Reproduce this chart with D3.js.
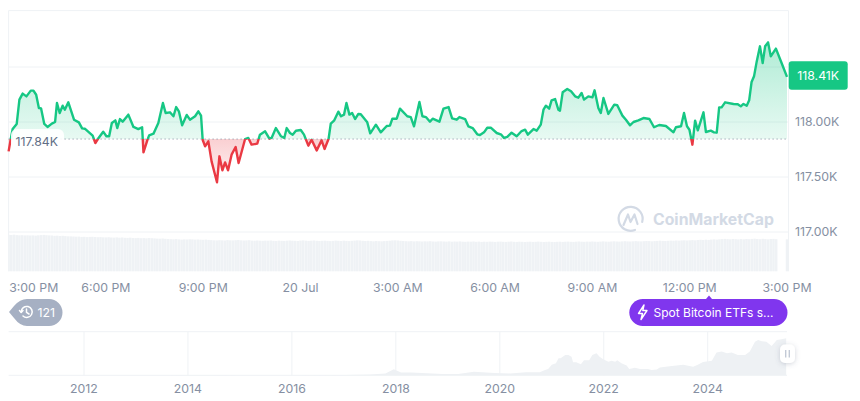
<!DOCTYPE html>
<html>
<head>
<meta charset="utf-8">
<script src="https://cdnjs.cloudflare.com/ajax/libs/d3/7.8.5/d3.min.js"></script>
<style>
html,body{margin:0;padding:0;background:#fff;overflow:hidden}
text{font-family:Inter,"Noto Sans",sans-serif}
</style>
</head>
<body>
<svg id="chart" width="860" height="401"></svg>
<script>
const priceMinutes = [0,4,7.5,15,20,26,33,41,46,51,56,60,66,72,80,86,89.5,94.5,100,104,110.5,121,130,136,141,155.5,160.5,166.5,175,181,186,191,197.5,201,206,211,221.5,231,240,247,249.5,257,260,268,277,285.5,290.5,298.5,305,310,315,321,329.5,335.5,345,351,356,359,363.5,369.5,375.5,385.5,390,395.5,400.5,406,412.5,420,425.5,437.5,443.5,449.5,460,465,474.5,482.5,486.5,494.5,504,510,514.5,520.5,525.5,531.5,540.5,546.5,554.5,560.5,570,579,584.5,592,596,602.5,610,615,620.5,625,630.5,635.5,641,647,651.5,663.5,669,679.5,688.5,699.5,705.5,710,718,724,737.5,744,750,760,765.5,772,779.5,784.5,797,804.5,814,820.5,829,834,844.5,850.5,858.5,867,872,879.5,885.5,892,903,911.5,916.5,922.5,930.5,940,949,955.5,960.5,971,977,984.5,989.5,994,1000,1004.5,1011,1017,1020,1025,1033.5,1040.5,1048,1054,1060,1064.5,1072.5,1080,1084,1091,1095.5,1100.5,1109.5,1120.5,1126,1135.5,1142,1149.5,1156,1165,1174.5,1185.5,1194,1203.5,1216,1230,1234.5,1244,1249.5,1255,1259.5,1265,1270,1275,1285.5,1290,1299,1305,1310,1314.5,1319,1325.5,1341,1349,1354.5,1359.5,1365.5,1370,1374.5,1379,1384,1390,1395,1399.5,1405,1410,1419.5,1430,1440];
const priceValues = [117733,117845,117936,117982,118203,118258,118233,118285,118285,118248,118127,118124,117982,117955,117985,118000,118173,118082,118148,118112,118179,118021,117997,117942,117939,117876,117809,117855,117912,117870,117870,117991,118015,117945,118027,118003,118067,117955,117936,117952,117724,117839,117879,117894,117991,118173,118082,118088,118052,118136,118097,117970,118064,118021,118052,118097,118058,117839,117779,117824,117642,117452,117688,117561,117633,117561,117703,117773,117627,117845,117855,117794,117803,117885,117915,117848,117855,117945,117870,117855,117945,117900,117885,117921,117927,117885,117785,117839,117742,117833,117755,117848,117985,118015,118094,118052,118067,118173,118067,118082,118027,118073,118070,117997,117897,117976,117906,117964,117967,118030,118030,118121,118052,118045,117961,118182,118052,118045,118003,118030,118003,118121,118136,118033,118021,118045,118027,117961,117945,117888,117882,117906,117948,117948,117900,117885,117855,117864,117903,117870,117918,117930,117885,117936,117921,117976,118112,118148,118121,118197,118209,118112,118103,118270,118300,118279,118233,118221,118264,118203,118233,118224,118288,118127,118082,118218,118073,118158,118152,118058,118021,117970,118000,118015,118036,118027,117952,117973,117964,117906,117952,117961,118082,117961,117930,117794,118012,117924,118088,117909,117921,117906,117903,118133,118133,118179,118164,118161,118142,118164,118148,118197,118364,118415,118551,118688,118536,118688,118724,118597,118667,118536,118410];
const baselinePrice = 117845;
const lastPrice = 118410;
const priceTicks = [117000,117500,118000,118500];
const priceTickLabels = ["117.00K","117.50K","118.00K",""];
const timeTicks = [0,180,360,540,720,900,1080,1260,1440];
const timeTickLabels = ["3:00 PM","6:00 PM","9:00 PM","20 Jul","3:00 AM","6:00 AM","9:00 AM","12:00 PM","3:00 PM"];
const volumes = [
36.5,36.3,36.6,36.2,36.0,36.1,35.9,36.0,35.8,35.9,35.7,36.0,36.2,36.4,36.1,35.9,35.8,35.5,35.6,35.3,35.5,35.2,35.0,34.9,
34.8,34.6,34.7,34.4,34.5,34.2,34.4,34.5,34.3,34.1,34.2,34.0,33.9,34.1,33.8,33.7,33.9,33.6,33.8,33.5,33.4,33.6,33.3,33.2,
33.4,33.1,33.2,33.0,33.3,33.1,32.9,32.7,32.6,32.8,32.5,32.3,32.1,32.0,32.2,31.9,31.7,31.9,31.8,32.0,31.9,31.7,31.8,31.6,
31.5,31.7,31.4,31.2,31.0,30.9,31.1,31.0,30.8,31.2,31.0,30.9,31.1,31.3,31.0,30.8,30.9,31.1,30.7,30.6,30.8,30.6,30.5,30.7,
30.6,30.8,30.5,30.4,30.7,30.5,30.4,30.6,30.8,30.6,30.5,30.3,30.7,30.9,30.6,30.4,30.6,30.8,30.5,30.3,30.5,30.6,30.4,30.2,
30.4,30.7,30.5,30.3,30.6,30.4,30.2,30.5,30.7,30.9,30.8,30.5,30.3,30.5,30.2,30.0,30.3,30.1,30.0,30.2,30.4,30.6,30.9,31.0,
30.8,30.5,30.3,30.1,30.0,30.2,29.9,30.1,30.0,29.8,30.0,29.9,30.1,29.8,29.7,29.9,30.0,29.8,29.7,29.9,29.6,29.8,29.7,29.9,
29.6,29.5,29.7,29.6,29.8,29.5,29.7,29.4,29.6,29.5,29.7,29.6,29.4,29.6,29.7,29.5,29.4,29.6,29.8,29.5,29.4,29.6,29.5,29.3,
29.5,29.6,29.4,29.5,29.7,29.5,29.3,29.5,29.6,29.4,29.3,29.5,29.6,29.4,29.6,29.7,29.5,29.4,29.6,29.8,29.6,29.5,29.7,29.6,
29.8,29.6,29.5,29.7,29.9,29.7,29.6,29.8,30.0,29.8,29.7,29.9,30.1,29.9,29.8,30.0,30.2,30.0,29.9,30.1,30.3,30.2,30.0,30.2,
30.4,30.6,30.4,30.3,30.5,30.7,30.6,30.8,30.7,30.9,31.0,30.8,31.0,31.2,31.0,31.3,31.5,31.3,31.6,31.4,31.7,31.9,31.7,32.0,
32.2,32.4,32.2,32.0,32.3,32.1,31.9,32.2,32.0,32.3,32.1,32.4,32.6,32.3,32.1,32.5,32.2,32.0,32.3,32.4,32.1,null,null,null,
32.0];
const navYears = [2010.56,2013.0,2013.6,2013.92,2014.5,2015.0,2016.0,2017.0,2017.5,2017.8,2017.96,2018.1,2018.3,2018.5,2018.9,2019.2,2019.5,2019.9,2020.2,2020.5,2020.77,2020.87,2020.93,2021.0,2021.08,2021.13,2021.17,2021.26,2021.32,2021.38,2021.41,2021.47,2021.56,2021.62,2021.72,2021.78,2021.86,2021.92,2021.99,2022.09,2022.15,2022.22,2022.26,2022.34,2022.44,2022.49,2022.6,2022.7,2022.85,2022.92,2023.02,2023.08,2023.27,2023.53,2023.72,2023.81,2023.91,2024.08,2024.17,2024.27,2024.37,2024.46,2024.58,2024.72,2024.81,2024.91,2024.97,2025.04,2025.13,2025.23,2025.33,2025.42,2025.51];
const navPrices = [0,0.02,0.1,1,0.6,0.3,0.4,1,2.5,6,19,9,9,7,4,4,11,7.5,6,9.5,9.5,17,20,33,38,54,54,64,64,59,41,41,35,48,48,64,70,59,51,43,46,43,48,38,31,20,24,20,20,17,18,25,29,33,27,33,42,46,72,75,70,72,64,64,75,106,112,108,106,93,112,114,117];
const navTicks = [2012,2014,2016,2018,2020,2022,2024];

const W = {l:8.6, r:787, top:10.6, vol:271.3};
const svg = d3.select("#chart");
const defs = svg.append("defs");

const x = d3.scaleLinear().domain([0,1440]).range([W.l,W.r]);
const y = d3.scaleLinear().domain([117000,119000]).range([232,12]);
const vy = d3.scaleLinear().domain([0,40]).range([W.vol,W.vol-40]);
const nx = d3.scaleLinear().domain([2012,2024]).range([84,707.7]);
const ny = d3.scaleLinear().domain([0,118]).range([375.3,338]);

const greenG = defs.append("linearGradient").attr("id","gGreen").attr("gradientUnits","userSpaceOnUse")
  .attr("x1",0).attr("x2",0).attr("y1",y(118724)).attr("y2",y(baselinePrice));
greenG.append("stop").attr("offset",0).attr("stop-color","#16c784").attr("stop-opacity",0.34);
greenG.append("stop").attr("offset",1).attr("stop-color","#16c784").attr("stop-opacity",0.1);
const redG = defs.append("linearGradient").attr("id","gRed").attr("gradientUnits","userSpaceOnUse")
  .attr("x1",0).attr("x2",0).attr("y1",y(baselinePrice)).attr("y2",y(117452));
redG.append("stop").attr("offset",0).attr("stop-color","#ea3943").attr("stop-opacity",0.24);
redG.append("stop").attr("offset",1).attr("stop-color","#ea3943").attr("stop-opacity",0.06);

defs.append("clipPath").attr("id","above").append("rect")
  .attr("x",W.l-2).attr("y",0).attr("width",W.r-W.l+4).attr("height",y(baselinePrice));
defs.append("clipPath").attr("id","below").append("rect")
  .attr("x",W.l-2).attr("y",y(baselinePrice)).attr("width",W.r-W.l+4).attr("height",200);
defs.append("clipPath").attr("id","plot").append("rect")
  .attr("x",W.l).attr("y",0).attr("width",W.r-W.l+1).attr("height",300);
const sh = defs.append("filter").attr("id","shadow").attr("x","-60%").attr("y","-60%").attr("width","220%").attr("height","220%");
sh.append("feDropShadow").attr("dx",0).attr("dy",1).attr("stdDeviation",2.5).attr("flood-color","#58667e").attr("flood-opacity",0.28);

// grid
const gridColor = "#eff2f5";
svg.append("g").selectAll("line").data(priceTicks.map(d=>y(d)).concat([W.top])).join("line")
  .attr("x1",W.l).attr("x2",W.r+1.5).attr("y1",d=>d).attr("y2",d=>d)
  .attr("stroke",gridColor).attr("stroke-width",1);
svg.append("g").selectAll("line").data([W.l,W.r+1.5]).join("line")
  .attr("x1",d=>d).attr("x2",d=>d).attr("y1",W.top).attr("y2",W.vol)
  .attr("stroke",gridColor).attr("stroke-width",1);

// volume
svg.append("g").attr("clip-path","url(#plot)").selectAll("rect")
  .data(volumes.map((v,i)=>({v,i})).filter(d=>d.v!=null)).join("rect")
  .attr("x",d=>x(d.i*5)-(x(5)-x(0))/2+0.1)
  .attr("width",x(5)-x(0)-0.2)
  .attr("y",d=>vy(d.v))
  .attr("height",d=>vy(0)-vy(d.v))
  .attr("fill","#eff2f5");

// watermark
const wmColor = "#d3dae5";
const wm = svg.append("g");
wm.append("path").attr("d","M642.2 222 A12 12 0 1 0 635 230").attr("fill","none").attr("stroke",wmColor).attr("stroke-width",2.2).attr("stroke-linecap","round");
wm.append("path").attr("d","M623.5 225 L628 214.5 L630.5 222 L634.5 214.5 L637.5 224").attr("fill","none").attr("stroke",wmColor).attr("stroke-width",2.2).attr("stroke-linejoin","round").attr("stroke-linecap","round");
wm.append("text").attr("x",653).attr("y",219).attr("dy","0.35em").attr("font-size",15.8).attr("font-weight",700).attr("fill",wmColor).text("CoinMarketCap");

// price
const pts = priceMinutes.map((m,i)=>({m,v:priceValues[i]}));
const area = d3.area().x(d=>x(d.m)).y0(y(baselinePrice)).y1(d=>y(d.v));
const line = d3.line().x(d=>x(d.m)).y(d=>y(d.v));
const gA = svg.append("g").attr("clip-path","url(#above)");
const gB = svg.append("g").attr("clip-path","url(#below)");
gA.append("path").attr("d",area(pts)).attr("fill","url(#gGreen)");
gB.append("path").attr("d",area(pts)).attr("fill","url(#gRed)");

// baseline
svg.append("line").attr("x1",W.l).attr("x2",W.r).attr("y1",y(baselinePrice)).attr("y2",y(baselinePrice))
  .attr("stroke","#808a9d").attr("stroke-width",1).attr("stroke-dasharray","1 3");

gA.append("path").attr("d",line(pts)).attr("fill","none").attr("stroke","#16c784").attr("stroke-width",2.4).attr("stroke-linejoin","round");
gB.append("path").attr("d",line(pts)).attr("fill","none").attr("stroke","#ea3943").attr("stroke-width",2.4).attr("stroke-linejoin","round");

// baseline label
svg.append("rect").attr("x",11).attr("y",y(baselinePrice)-10).attr("width",53).attr("height",20).attr("rx",6).attr("fill","#fff").attr("fill-opacity",0.9);
svg.append("text").attr("x",15.5).attr("y",141.5).attr("dy","0.35em").attr("font-size",12.3).attr("fill","#616e85").text("117.84K");

// y labels
const labelColor = "#858fa2";
svg.append("g").selectAll("text").data(priceTicks.map((t,i)=>({t,l:priceTickLabels[i]})).filter(d=>d.l)).join("text")
  .attr("x",795).attr("y",d=>y(d.t)).attr("dy","0.35em").attr("font-size",12.3).attr("fill",labelColor).text(d=>d.l);

// last price tag
svg.append("rect").attr("x",788.7).attr("y",61.3).attr("width",59).attr("height",28.4).attr("rx",3).attr("fill","#16c784");
svg.append("text").attr("x",818.2).attr("y",75.5).attr("dy","0.35em").attr("text-anchor","middle").attr("font-size",12.3).attr("fill","#fff").text(d3.format(".2f")(lastPrice/1000)+"K");

// x labels
svg.append("g").selectAll("text").data(timeTicks.map((t,i)=>({t,l:timeTickLabels[i],i}))).join("text")
  .attr("x",d=>d.i===0?W.l+0.6:x(d.t)).attr("y",288).attr("dy","0.35em")
  .attr("text-anchor",d=>d.i===0?"start":"middle")
  .attr("font-size",12.3).attr("fill",labelColor).text(d=>d.l);

// history badge
svg.append("path").attr("d","M9 312 L14 306 Q20 299 27 299 H49 A13.5 13.5 0 0 1 49 326 H27 Q20 326 14 318 Z").attr("fill","#a6b0c3");
const ic = svg.append("g").attr("fill","none").attr("stroke","#fff").attr("stroke-width",1.5).attr("stroke-linecap","round").attr("stroke-linejoin","round");
ic.append("path").attr("d","M21.2 312 A5.5 5.5 0 1 1 23 316");
ic.append("path").attr("d","M19.5 310.5 L21.2 312.5 L23 310.6");
ic.append("path").attr("d","M26.5 309 V312.4 L29 314");
svg.append("text").attr("x",37.5).attr("y",312.5).attr("dy","0.35em").attr("font-size",12.3).attr("fill","#fff").text("121");

// event badge
svg.append("path").attr("d","M706 299 L709 295.5 L712 299 Z").attr("fill","#8036ee");
svg.append("rect").attr("x",629.3).attr("y",299).attr("width",158.2).attr("height",27).attr("rx",13.5).attr("fill","#8036ee");
svg.append("path").attr("d","M644 305 L638.5 313.5 H642.5 L641 319.5 L647 310.5 H642.8 Z").attr("fill","none").attr("stroke","#fff").attr("stroke-width",1.4).attr("stroke-linejoin","round");
svg.append("text").attr("x",653.5).attr("y",312.5).attr("dy","0.35em").attr("font-size",12).attr("fill","#fff").text("Spot Bitcoin ETFs s...");

// navigator
svg.append("g").selectAll("line").data([331.7,375.3]).join("line")
  .attr("x1",W.l).attr("x2",W.r).attr("y1",d=>d).attr("y2",d=>d).attr("stroke",gridColor);
svg.append("g").selectAll("line").data(navTicks).join("line")
  .attr("x1",d=>nx(d)).attr("x2",d=>nx(d)).attr("y1",331.7).attr("y2",375.3).attr("stroke",gridColor);
const navPts = navYears.map((yr,i)=>({yr,p:navPrices[i]}));
svg.append("path").attr("d",d3.area().x(d=>nx(d.yr)).y0(ny(0)).y1(d=>ny(d.p))(navPts)).attr("fill","#eef1f4");
svg.append("g").selectAll("text").data(navTicks).join("text")
  .attr("x",d=>nx(d)).attr("y",389).attr("dy","0.35em").attr("text-anchor","middle")
  .attr("font-size",12.3).attr("fill",labelColor).text(d=>d);

// handle
svg.append("rect").attr("x",780).attr("y",344.5).attr("width",15).attr("height",18.5).attr("rx",5).attr("fill","#fff").attr("filter","url(#shadow)");
svg.append("g").selectAll("line").data([785.7,789.3]).join("line")
  .attr("x1",d=>d).attr("x2",d=>d).attr("y1",350).attr("y2",357.5).attr("stroke","#c3cad6").attr("stroke-width",1.4);
</script>
</body>
</html>
